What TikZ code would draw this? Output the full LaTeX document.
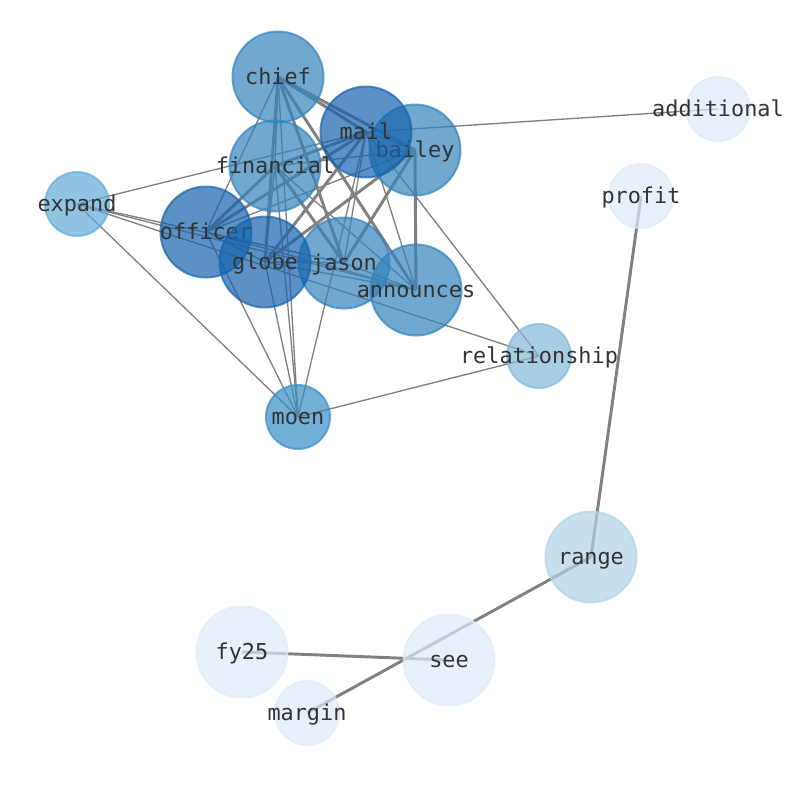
\documentclass[tikz,border=0pt]{standalone}
\usepackage{fontspec}
\usepackage{xcolor}
\usepackage{tikz}
\newfontfamily\wordfont{DejaVu Sans Mono}

\definecolor{palenode}{HTML}{DEEBF8}
\definecolor{rangenode}{HTML}{AED3E7}
\definecolor{relnode}{HTML}{83B9D8}
\definecolor{expandnode}{HTML}{63ABD6}
\definecolor{moennode}{HTML}{388DC4}
\definecolor{midnode}{HTML}{3383BC}
\definecolor{darknode}{HTML}{1663AB}
\definecolor{labelgray}{HTML}{333333}

\pgfdeclarelayer{edges}
\pgfsetlayers{edges,main}

\tikzset{
  word/.style={circle, inner sep=0pt, line width=1.5pt, fill=#1, draw=#1,
    fill opacity=0.7, draw opacity=0.7, text opacity=1},
  bigword/.style={word=#1, minimum size=68.25pt},
  smallword/.style={word=#1, minimum size=48pt},
  every label/.style={text=labelgray, text opacity=1, fill opacity=1,
    font=\wordfont\fontsize{16.4}{19}\selectfont, inner sep=0pt,
    text height=14.7pt, text depth=3.9pt},
  thin link/.style={gray, line width=1pt},
  thick link/.style={gray, line width=2.2pt},
}

\begin{document}
\begin{tikzpicture}[x=0.75pt, y=-0.75pt]
    \useasboundingbox (0,0) rectangle (794,790);

    % words
    \node[bigword=midnode, label=center:chief] (chief) at (278,77) {};
    \node[bigword=midnode, label=center:financial] (financial) at (275,166) {};
    \node[bigword=midnode, label=center:bailey] (bailey) at (415,150) {};
    \node[bigword=darknode, label=center:mail] (mail) at (366,132) {};
    \node[bigword=darknode, label=center:officer] (officer) at (206,232) {};
    \node[bigword=midnode, label=center:jason] (jason) at (344,263) {};
    \node[bigword=darknode, label=center:globe] (globe) at (265,262) {};
    \node[bigword=midnode, label=center:announces] (announces) at (416,290) {};
    \node[smallword=expandnode, label=center:expand] (expand) at (77,204) {};
    \node[smallword=relnode, label=center:relationship] (relationship) at (539,356) {};
    \node[smallword=moennode, label=center:moen] (moen) at (298,417) {};
    \node[smallword=palenode, label=center:additional] (additional) at (718,109) {};
    \node[smallword=palenode, label=center:profit] (profit) at (641,196) {};
    \node[bigword=rangenode, label=center:range] (range) at (591,557) {};
    \node[bigword=palenode, label=center:fy25] (fy25) at (242,652) {};
    \node[bigword=palenode, label=center:see] (see) at (449,660) {};
    \node[smallword=palenode, label=center:margin] (margin) at (307,713) {};

    \begin{pgfonlayer}{edges}
    % heavy links
    \draw[thick link] (chief.center) -- (mail.center);
    \draw[thick link] (chief.center) -- (bailey.center);
    \draw[thick link] (chief.center) -- (announces.center);
    \draw[thick link] (chief.center) -- (globe.center);
    \draw[thick link] (chief.center) -- (jason.center);
    \draw[thick link] (mail.center) -- (officer.center);
    \draw[thick link] (mail.center) -- (globe.center);
    \draw[thick link] (mail.center) -- (financial.center);
    \draw[thick link] (bailey.center) -- (globe.center);
    \draw[thick link] (bailey.center) -- (jason.center);
    \draw[thick link] (bailey.center) -- (announces.center);
    \draw[thick link] (financial.center) -- (officer.center);
    \draw[thick link] (financial.center) -- (jason.center);
    \draw[thick link] (range.center) -- (profit.center);
    \draw[thick link] (margin.center) -- (range.center);
    \draw[thick link] (fy25.center) -- (see.center);
    % light links
    \draw[thin link] (chief.center) -- (officer.center);
    \draw[thin link] (chief.center) -- (financial.center);
    \draw[thin link] (chief.center) -- (moen.center);
    \draw[thin link] (mail.center) -- (bailey.center);
    \draw[thin link] (mail.center) -- (jason.center);
    \draw[thin link] (mail.center) -- (announces.center);
    \draw[thin link] (mail.center) -- (expand.center);
    \draw[thin link] (mail.center) -- (additional.center);
    \draw[thin link] (mail.center) -- (relationship.center);
    \draw[thin link] (mail.center) -- (moen.center);
    \draw[thin link] (bailey.center) -- (financial.center);
    \draw[thin link] (bailey.center) -- (officer.center);
    \draw[thin link] (financial.center) -- (globe.center);
    \draw[thin link] (financial.center) -- (announces.center);
    \draw[thin link] (financial.center) -- (moen.center);
    \draw[thin link] (officer.center) -- (globe.center);
    \draw[thin link] (officer.center) -- (jason.center);
    \draw[thin link] (officer.center) -- (announces.center);
    \draw[thin link] (officer.center) -- (moen.center);
    \draw[thin link] (globe.center) -- (jason.center);
    \draw[thin link] (globe.center) -- (announces.center);
    \draw[thin link] (globe.center) -- (moen.center);
    \draw[thin link] (jason.center) -- (announces.center);
    \draw[thin link] (expand.center) -- (jason.center);
    \draw[thin link] (expand.center) -- (announces.center);
    \draw[thin link] (expand.center) -- (relationship.center);
    \draw[thin link] (expand.center) -- (moen.center);
    \draw[thin link] (moen.center) -- (relationship.center);
    \end{pgfonlayer}
\end{tikzpicture}
\end{document}
